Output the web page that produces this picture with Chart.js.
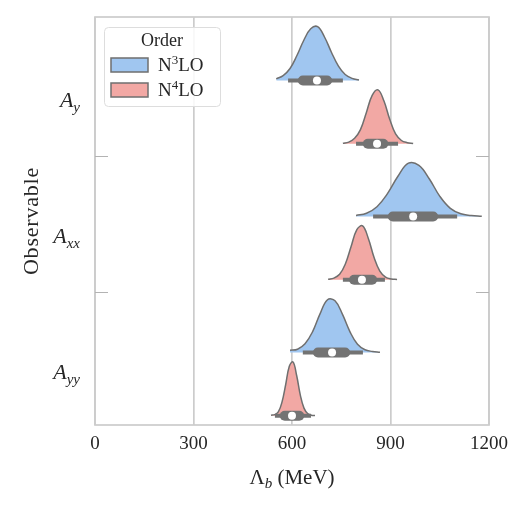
<!DOCTYPE html>
<html><head><meta charset="utf-8">
<script src="https://cdn.jsdelivr.net/npm/chart.js@4"></script>
<style>html,body{margin:0;padding:0;background:#fff}canvas{display:block}</style>
</head><body>
<canvas id="c" width="528" height="507"></canvas>
<script>
// ---------- data ----------
const observableBase = ['A', 'A', 'A'];
const observableSub  = ['y', 'xx', 'yy'];
const orderSup = ['3', '4'];            // N^3LO, N^4LO
const xTicks = [0, 300, 600, 900, 1200];

// KDE support (MeV)
const n3Lo = [552, 795, 594];
const n3Hi = [804, 1178, 868];
const n4Lo = [755, 710, 536];
const n4Hi = [969, 920, 670];

// relative density at 13 evenly spaced points between lo and hi
const n3Density = [
  [0.03, 0.09, 0.22, 0.46, 0.74, 0.95, 0.99, 0.80, 0.52, 0.27, 0.11, 0.04, 0.01],
  [0.02, 0.06, 0.18, 0.42, 0.74, 0.98, 0.94, 0.69, 0.37, 0.15, 0.05, 0.02, 0.005],
  [0.04, 0.06, 0.16, 0.38, 0.71, 0.97, 0.95, 0.70, 0.38, 0.15, 0.05, 0.02, 0.005]
];
const n4Density = [
  [0.01, 0.03, 0.10, 0.26, 0.57, 0.89, 0.99, 0.79, 0.45, 0.18, 0.06, 0.02, 0.005],
  [0.01, 0.03, 0.10, 0.29, 0.61, 0.92, 0.99, 0.76, 0.41, 0.16, 0.05, 0.015, 0.005],
  [0.01, 0.02, 0.07, 0.25, 0.57, 0.91, 0.99, 0.74, 0.38, 0.14, 0.04, 0.01, 0.005]
];

// box statistics (MeV)
const n3Q1  = [633, 907, 679];
const n3Q3  = [707, 1030, 762];
const n3WLo = [588, 847, 633];
const n3WHi = [755, 1103, 816];
const n3Med = [676, 969, 722];
const n4Q1  = [831, 789, 578];
const n4Q3  = [878, 844, 622];
const n4WLo = [795, 755, 548];
const n4WHi = [923, 883, 658];
const n4Med = [859, 813, 600];

// ---------- styling ----------
const FONT = "'Liberation Serif', 'DejaVu Serif', serif";
const fills = ['#a0c6f0', '#f2a8a4'];
const edge = '#6f6f6f';
const boxCol = '#737373';
const baseOff = [-0.055, 0.41];
const vH = 0.4;

const hues = [
  {lo: n3Lo, hi: n3Hi, dens: n3Density, q1: n3Q1, q3: n3Q3, wlo: n3WLo, whi: n3WHi, med: n3Med},
  {lo: n4Lo, hi: n4Hi, dens: n4Density, q1: n4Q1, q3: n4Q3, wlo: n4WLo, whi: n4WHi, med: n4Med}
];

const datasets = [];
hues.forEach((h, hi) => {
  observableBase.forEach((_, ci) => {
    const base = ci + baseOff[hi];
    const d = h.dens[ci];
    const n = d.length;
    const pts = d.map((v, k) => ({x: h.lo[ci] + k * (h.hi[ci] - h.lo[ci]) / (n - 1), y: base - v * vH}));
    datasets.push({data: pts, fill: {value: base}, backgroundColor: fills[hi], borderColor: edge,
      borderWidth: 1.5, pointRadius: 0, tension: 0.4, order: 4});
    datasets.push({data: [{x: h.wlo[ci], y: base}, {x: h.whi[ci], y: base}], borderColor: boxCol,
      borderWidth: 4, borderCapStyle: 'butt', pointRadius: 0, fill: false, order: 3});
    datasets.push({data: [{x: h.q1[ci], y: base}, {x: h.q3[ci], y: base}], borderColor: boxCol,
      borderWidth: 10, borderCapStyle: 'round', pointRadius: 0, fill: false, order: 2});
    datasets.push({data: [{x: h.med[ci], y: base}], showLine: false, pointRadius: 4,
      pointBackgroundColor: '#ffffff', pointBorderWidth: 0, borderWidth: 0, order: 1});
  });
});

function drawRich(ctx, parts, x, y, align) {
  let total = 0;
  parts.forEach(p => { ctx.font = (p.italic ? 'italic ' : '') + p.size + 'px ' + FONT; p.w = ctx.measureText(p.t).width; total += p.w; });
  let cx = align === 'right' ? x - total : align === 'center' ? x - total / 2 : x;
  parts.forEach(p => {
    ctx.font = (p.italic ? 'italic ' : '') + p.size + 'px ' + FONT;
    ctx.fillText(p.t, cx, y + (p.dy || 0));
    cx += p.w;
  });
}

const deco = {
  id: 'deco',
  beforeDatasetsDraw(chart) {
    const {ctx, chartArea: a, scales: {y}} = chart;
    ctx.save();
    ctx.strokeStyle = '#cccccc'; ctx.lineWidth = 1.7;
    ctx.strokeRect(a.left, a.top, a.right - a.left, a.bottom - a.top);
    ctx.strokeStyle = '#b3b3b3'; ctx.lineWidth = 1.2;
    [0.5, 1.5].forEach(v => {
      const py = Math.round(y.getPixelForValue(v)) + 0.5;
      ctx.beginPath();
      ctx.moveTo(a.left, py); ctx.lineTo(a.left + 13, py);
      ctx.moveTo(a.right - 13, py); ctx.lineTo(a.right, py);
      ctx.stroke();
    });
    ctx.restore();
  },
  afterDraw(chart) {
    const {ctx, chartArea: a, scales: {y}} = chart;
    ctx.save();
    ctx.fillStyle = '#262626';
    ctx.textBaseline = 'alphabetic';
    observableBase.forEach((b, i) => {
      const py = y.getPixelForValue(i + 0.1);
      drawRich(ctx, [{t: b, size: 22, italic: true}, {t: observableSub[i], size: 15, italic: true, dy: 5}], 80, py + 5, 'right');
    });
    drawRich(ctx, [{t: 'Λ', size: 21}, {t: 'b', size: 15, italic: true, dy: 4}, {t: ' (MeV)', size: 21}], (a.left + a.right) / 2, 484, 'center');
    ctx.save();
    ctx.translate(38, (a.top + a.bottom) / 2);
    ctx.rotate(-Math.PI / 2);
    ctx.font = '22px ' + FONT;
    ctx.letterSpacing = '0.8px';
    ctx.textAlign = 'center';
    ctx.fillText('Observable', 0, 0);
    ctx.restore();
    ctx.beginPath();
    ctx.roundRect(104.5, 27.5, 116, 79, 4);
    ctx.fillStyle = 'rgba(255,255,255,0.85)';
    ctx.fill();
    ctx.strokeStyle = '#dddddd'; ctx.lineWidth = 1;
    ctx.stroke();
    ctx.fillStyle = '#262626';
    ctx.font = '18px ' + FONT;
    ctx.textAlign = 'center';
    ctx.fillText('Order', 162, 46);
    ctx.textAlign = 'left';
    orderSup.forEach((s, i) => {
      const ty = 58 + i * 25;
      ctx.fillStyle = fills[i];
      ctx.fillRect(111, ty, 37, 14);
      ctx.strokeStyle = edge; ctx.lineWidth = 1.5;
      ctx.strokeRect(111, ty, 37, 14);
      ctx.fillStyle = '#262626';
      drawRich(ctx, [{t: 'N', size: 19}, {t: s, size: 13, dy: -7}, {t: 'LO', size: 19}], 158, ty + 13, 'left');
    });
    ctx.restore();
  }
};

Chart.defaults.font.family = FONT;
new Chart(document.getElementById('c'), {
  type: 'line',
  data: {datasets},
  options: {
    responsive: false, animation: false, devicePixelRatio: 1,
    layout: {padding: {top: 17, right: 39, left: 0, bottom: 0}},
    plugins: {legend: {display: false}, tooltip: {enabled: false}},
    scales: {
      x: {
        type: 'linear', min: 0, max: 1200,
        afterBuildTicks: s => { s.ticks = xTicks.map(v => ({value: v})); },
        ticks: {color: '#262626', font: {size: 19, family: FONT}, padding: 8, maxRotation: 0,
          callback: v => String(v)},
        grid: {color: '#cccccc', lineWidth: 1.7, drawTicks: false},
        border: {display: false},
        afterFit: s => { s.height = 82; }
      },
      y: {
        type: 'linear', min: -0.522, max: 2.478, reverse: true,
        ticks: {display: false},
        grid: {display: false},
        border: {display: false},
        afterFit: s => { s.width = 95; }
      }
    }
  },
  plugins: [deco]
});
</script>
</body></html>
